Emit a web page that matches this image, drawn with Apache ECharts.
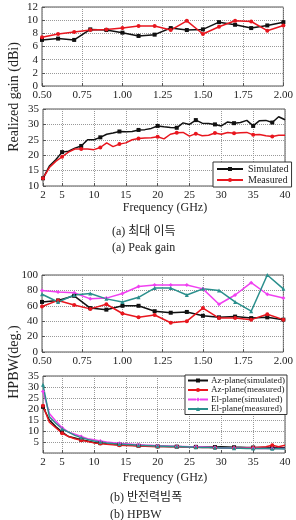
<!DOCTYPE html>
<html><head><meta charset="utf-8">
<script src="https://cdn.jsdelivr.net/npm/echarts@6/dist/echarts.min.js"></script>
<style>html,body{margin:0;padding:0;background:#fff}#c{width:296px;height:520px}</style>
</head><body><div id="c"></div>
<script>
// ---- data ----
const freqLow = [0.5,0.6,0.7,0.8,0.9,1.0,1.1,1.2,1.3,1.4,1.5,1.6,1.7,1.8,1.9,2.0];
const freqHigh = [2,3,4,5,6,7,8,9,10,11,12,13,14,15,16,17,18,19,20,21,22,23,24,25,26,27,28,29,30,31,32,33,34,35,36,37,38,39,40];

const gainLowSim  = [7.0,7.2,7.0,8.6,8.5,8.1,7.6,7.8,8.8,8.5,8.6,9.7,9.3,8.8,9.2,9.7];
const gainLowMeas = [7.4,7.9,8.2,8.5,8.6,8.8,9.1,9.1,8.5,9.9,7.9,9.0,9.9,9.8,8.4,9.2];

const gainHighSim  = [12.5,16.5,18.5,21.0,21.3,22.3,23.0,25.0,25.0,25.8,26.8,27.2,27.7,27.6,27.7,28.2,28.3,28.7,29.5,29.2,29.0,28.9,30.5,30.0,31.4,30.4,30.3,30.0,29.5,30.8,30.4,30.6,31.3,29.5,31.2,31.3,30.6,32.5,31.5];
const gainHighMeas = [12.5,16.0,18.0,19.5,21.0,22.0,22.0,22.0,21.8,22.5,24.0,22.8,23.6,24.0,25.0,25.4,25.6,25.7,26.0,25.3,26.8,27.3,27.4,26.2,27.0,26.3,26.5,27.2,26.8,27.4,27.1,27.3,27.4,26.6,26.7,26.3,26.1,26.5,26.5];

const hpLowAzSim  = [65,67,73,57,55,60,60,53,51,52,47,45,46,44,45,42];
const hpLowAzMeas = [59,67,61,56,62,50,45,48,38,40,57,44,44,42,49,42];
const hpLowElSim  = [80,78,77,69,70,76,85,87,87,87,82,62,74,90,75,70];
const hpLowElMeas = [75,65,74,76,69,65,71,83,83,74,82,80,65,53,100,82];

const hpHighAzSim  = [21,15,12,9.5,7.5,6.8,6.0,5.5,4.8,4.5,4.2,4.0,3.8,3.6,3.5,3.3,3.2,3.1,3.0,3.0,2.9,2.9,2.8,2.8,2.8,2.7,2.7,2.7,2.8,2.7,2.6,2.6,2.5,2.5,2.5,2.5,2.4,2.4,2.4];
const hpHighAzMeas = [21.5,14,11.5,9.0,7.5,6.5,5.8,5.2,4.6,4.3,4.0,3.8,3.5,3.4,3.3,3.2,3.1,3.0,3.0,2.9,2.8,2.8,2.7,2.6,2.6,2.5,2.5,2.4,2.4,2.3,2.3,2.3,2.4,2.4,2.6,2.8,3.5,2.8,3.5];
const hpHighElSim  = [28,18,14.5,11.5,9.5,8.5,7.5,6.5,6.0,5.5,5.0,4.7,4.4,4.2,4.0,3.8,3.6,3.5,3.3,3.2,3.1,3.0,2.9,2.8,2.8,2.7,2.6,2.5,2.3,2.3,2.3,2.2,2.2,2.2,2.1,2.1,2.0,2.0,2.0];
const hpHighElMeas = [31,16.5,13.5,11,9.5,8.0,7.0,6.2,5.5,5.0,4.6,4.3,4.1,3.9,3.7,3.5,3.4,3.3,3.2,3.1,3.0,2.9,2.8,2.7,2.6,2.5,2.5,2.4,2.3,2.3,2.2,2.2,2.1,2.1,2.0,2.0,1.9,1.9,1.8];

const xLowTicks = [0.5,0.75,1.0,1.25,1.5,1.75,2.0];
const xHighTicks = [2,5,10,15,20,25,30,35,40];

const names = ['Simulated','Measured'];
const hpNames = ['Az-plane(simulated)','Az-plane(measured)','El-plane(simulated)','El-plane(measured)'];

// ---- styles ----
const FONT = '"Liberation Serif","Times New Roman",serif';
const C_BLACK='#111', C_RED='#e8161e', C_MAG='#f040f0', C_TEAL='#2a8f8c';
const grid = [
  {left:42,right:9,top:7,height:79},
  {left:43,right:11,top:109,height:77},
  {left:42,right:9,top:275,height:77},
  {left:43,right:11,top:376,height:77}
].map(g=>Object.assign({show:true,borderColor:'#555',borderWidth:1,backgroundColor:'#fff'},g));

const split = {show:true,lineStyle:{type:'dotted',color:'#999',width:1}};
const lab = {color:'#222',fontFamily:FONT,fontSize:11};

function xLow(i){return {type:'value',gridIndex:i,min:0.5,max:2.0,interval:0.25,
  axisLine:{show:false},axisTick:{show:true,inside:true,length:3,lineStyle:{color:'#555'}},
  splitLine:split,axisLabel:Object.assign({formatter:v=>v.toFixed(2),margin:4},lab)};}
function xHigh(i){return {type:'value',gridIndex:i,min:2,max:40,
  axisLine:{show:false},axisTick:{show:true,inside:true,length:3,customValues:xHighTicks,lineStyle:{color:'#555'}},
  splitLine:split,axisLabel:Object.assign({customValues:xHighTicks,margin:4},lab)};}
function yAx(i,min,max,iv,extra){return Object.assign({type:'value',gridIndex:i,min:min,max:max,interval:iv,
  axisLine:{show:false},axisTick:{show:true,inside:true,length:3,lineStyle:{color:'#555'}},
  splitLine:split,axisLabel:Object.assign({margin:4},lab)},extra||{});}

function pairs(xs,ys){return xs.map((x,i)=>[x,ys[i]]);}
function ser(name,xi,xs,ys,color,symbol,every){
  return {name:name,type:'line',xAxisIndex:xi,yAxisIndex:xi,data:pairs(xs,ys),
    symbol:symbol,symbolSize:every?((v,p)=>p.dataIndex%every===0?4:0):4,
    lineStyle:{color:color,width:1.5},itemStyle:{color:color},emphasis:{disabled:true},
    animation:false,z:3};
}

const option = {
  animation:false,
  grid:grid,
  xAxis:[xLow(0),xHigh(1),xLow(2),xHigh(3)],
  yAxis:[yAx(0,0,12,2),yAx(1,10,35,5),yAx(2,0,100,20),yAx(3,0,35,5,{axisLabel:Object.assign({margin:4,showMinLabel:false},lab)})],
  legend:[
    {data:names,left:213,top:162,orient:'vertical',itemGap:1,itemWidth:26,itemHeight:5,
     borderColor:'#333',borderWidth:1,padding:[2,3,2,3],backgroundColor:'#fff',
     textStyle:{fontFamily:FONT,fontSize:10,color:'#222'},selectedMode:false},
    {data:[hpNames[0],hpNames[1],{name:hpNames[2],lineStyle:{type:'dashed'}},hpNames[3]],
     left:185,top:375,orient:'vertical',itemGap:0.5,itemWidth:20,itemHeight:5,
     borderColor:'#333',borderWidth:1,padding:[1,2,1,2],backgroundColor:'#fff',
     textStyle:{fontFamily:FONT,fontSize:9,color:'#222',padding:[0,0,0,-2]},selectedMode:false}
  ],
  series:[
    ser(names[0],0,freqLow,gainLowSim,C_BLACK,'rect'),
    ser(names[1],0,freqLow,gainLowMeas,C_RED,'circle'),
    ser(names[0],1,freqHigh,gainHighSim,C_BLACK,'rect',3),
    ser(names[1],1,freqHigh,gainHighMeas,C_RED,'circle',3),
    ser(hpNames[0],2,freqLow,hpLowAzSim,C_BLACK,'rect'),
    ser(hpNames[1],2,freqLow,hpLowAzMeas,C_RED,'circle'),
    ser(hpNames[2],2,freqLow,hpLowElSim,C_MAG,'diamond'),
    ser(hpNames[3],2,freqLow,hpLowElMeas,C_TEAL,'triangle'),
    ser(hpNames[0],3,freqHigh,hpHighAzSim,C_BLACK,'rect',3),
    ser(hpNames[1],3,freqHigh,hpHighAzMeas,C_RED,'circle',3),
    ser(hpNames[2],3,freqHigh,hpHighElSim,C_MAG,'diamond',3),
    ser(hpNames[3],3,freqHigh,hpHighElMeas,C_TEAL,'triangle',3)
  ],
  graphic:[
    {type:'text',x:14,y:97,rotation:Math.PI/2,style:{text:'Realized gain (dBi)',font:'14px '+FONT,fill:'#222',align:'center',verticalAlign:'middle'}},
    {type:'text',x:14,y:362,rotation:Math.PI/2,style:{text:'HPBW(deg.)',font:'14px '+FONT,fill:'#222',align:'center',verticalAlign:'middle'}},
    {type:'text',x:165,y:208,style:{text:'Frequency (GHz)',font:'12px '+FONT,fill:'#222',align:'center',verticalAlign:'middle'}},
    {type:'text',x:112,y:232,style:{text:'(a) 최대 이득',font:'12px "Liberation Serif","Noto Sans CJK KR",serif',fill:'#222',align:'left',verticalAlign:'middle'}},
    {type:'text',x:112,y:248,style:{text:'(a) Peak gain',font:'12px '+FONT,fill:'#222',align:'left',verticalAlign:'middle'}},
    {type:'text',x:165,y:478,style:{text:'Frequency (GHz)',font:'12px '+FONT,fill:'#222',align:'center',verticalAlign:'middle'}},
    {type:'text',x:110,y:498,style:{text:'(b) 반전력빔폭',font:'12px "Liberation Serif","Noto Sans CJK KR",serif',fill:'#222',align:'left',verticalAlign:'middle'}},
    {type:'text',x:110,y:515,style:{text:'(b) HPBW',font:'12px '+FONT,fill:'#222',align:'left',verticalAlign:'middle'}}
  ]
};
echarts.init(document.getElementById('c'),null,{renderer:'canvas'}).setOption(option);
</script></body></html>
